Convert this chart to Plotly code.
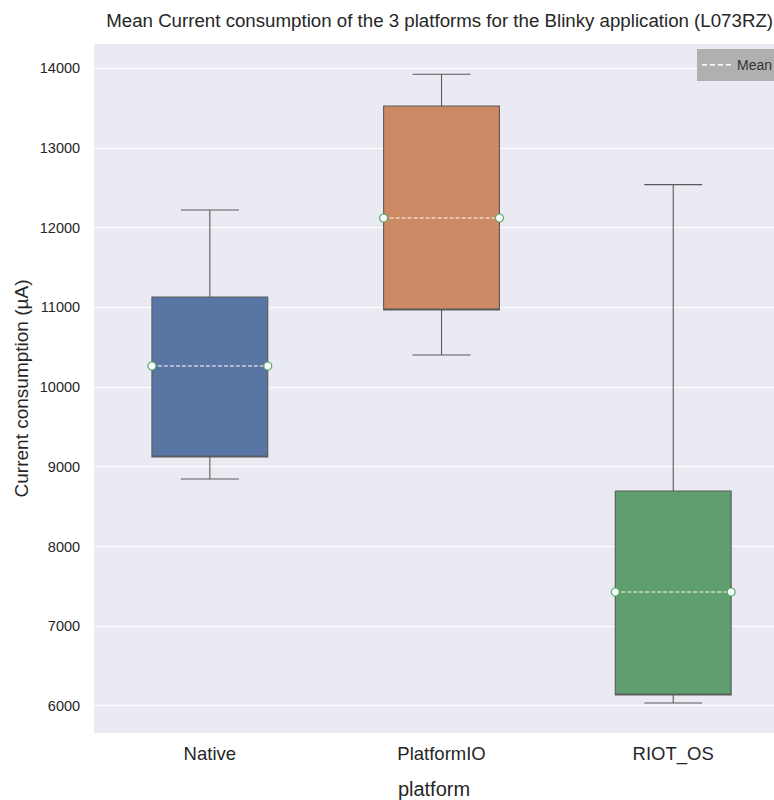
import plotly.graph_objects as go

platforms = ["Native", "PlatformIO", "RIOT_OS"]
q1 = [9123, 10967, 6137]
q3 = [11130, 13527, 8696]
means = [10265, 12122, 7429]
lower_whisker = [8847, 10403, 6036]
upper_whisker = [12222, 13925, 12540]
colors = ["#5975A4", "#CC8963", "#5F9E6E"]
y_ticks = [6000, 7000, 8000, 9000, 10000, 11000, 12000, 13000, 14000]

FONT = "Liberation Sans, Arial, sans-serif"
fig = go.Figure()
pos = list(range(len(platforms)))
for i, name in enumerate(platforms):
    fig.add_trace(go.Box(
        x=[pos[i]], q1=[q1[i]], median=[q1[i]], q3=[q3[i]],
        lowerfence=[lower_whisker[i]], upperfence=[upper_whisker[i]],
        width=0.5, whiskerwidth=0.5,
        fillcolor=colors[i], line=dict(color="#5a5a5a", width=1.1),
        boxpoints=False, showlegend=False, hoverinfo="skip", name=name,
    ))
for i, name in enumerate(platforms):
    fig.add_trace(go.Scatter(
        x=[pos[i] - 0.25, pos[i] + 0.25], y=[means[i], means[i]],
        mode="lines+markers",
        line=dict(color="white", width=1, dash="4px,2px"),
        marker=dict(symbol="circle", size=8, color="white",
                    line=dict(color="#55A868", width=1.2)),
        showlegend=False, hoverinfo="skip",
    ))
fig.add_trace(go.Scatter(
    x=[None], y=[None], mode="lines", name="Mean",
    line=dict(color="white", width=1.5, dash="5px,3px"),
))

fig.update_layout(
    width=774, height=800,
    margin=dict(l=94, r=0, t=44, b=67, autoexpand=False),
    paper_bgcolor="white", plot_bgcolor="#EAEAF2",
    font=dict(family=FONT, color="#262626"),
    title=dict(text="Mean Current consumption of the 3 platforms for the Blinky application (L073RZ)",
               xref="container", x=0.568, xanchor="center", y=0.975, yanchor="middle",
               font=dict(size=18.7, color="#262626")),
    legend=dict(x=0.8868, xanchor="left", y=0.9927, yanchor="top",
                bgcolor="#B0B0B0", bordercolor="#B0B0B0", borderwidth=0,
                font=dict(size=14, color="#333333"), itemwidth=30),
    xaxis=dict(
        range=[-0.5, 2.435], tickmode="array", tickvals=pos, ticktext=platforms,
        showgrid=False, zeroline=False, ticks="outside", ticklen=4,
        tickcolor="rgba(0,0,0,0)",
        tickfont=dict(size=18.5),
        title=dict(text="platform", font=dict(size=20), standoff=21),
    ),
    yaxis=dict(
        range=[5660, 14305], tickmode="array", tickvals=y_ticks, tickformat="d",
        showgrid=True, gridcolor="white", gridwidth=1.2, zeroline=False,
        ticks="outside", ticklen=10, tickcolor="rgba(0,0,0,0)",
        tickfont=dict(size=14.5),
        title=dict(text="Current consumption (µA)", font=dict(size=19), standoff=6),
    ),
)
fig.write_html("out.html", config={"displayModeBar": False},
               post_script="document.body.style.margin='0px';")
